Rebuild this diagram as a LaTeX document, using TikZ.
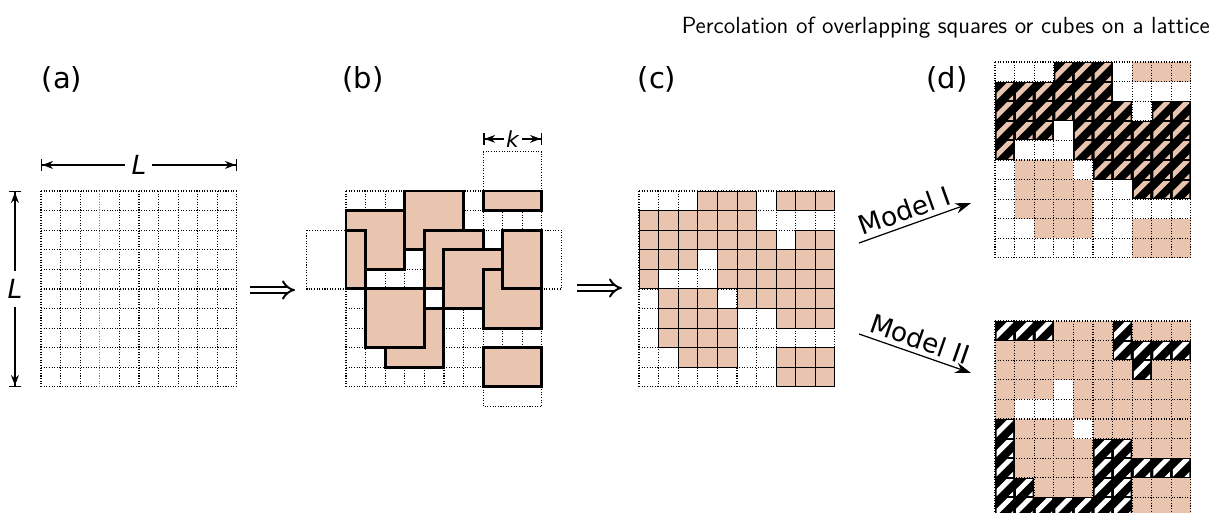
\documentclass[tikz,border=0pt]{standalone}
\usepackage{fontspec}
\usepackage{tikz}
\usetikzlibrary{arrows.meta, positioning, calc}
\newfontfamily\labelfont{DejaVu Sans}
\definecolor{sand}{RGB}{233,197,175}
\definecolor{gridgreen}{RGB}{50,185,50}

% occupied cells after the squares are put down (row/columns)
\newcommand{\occupied}{0/{3,4,5,7,8,9}, 1/{0,1,2,3,4,5}, 2/{0,1,2,3,4,5,6,8,9},
  3/{0,1,2,4,5,6,7,8,9}, 4/{0,4,5,6,7,8,9}, 5/{1,2,3,5,6,7,8,9},
  6/{1,2,3,4,7,8,9}, 7/{1,2,3,4}, 8/{2,3,4,7,8,9}, 9/{7,8,9}}

% hatched cell: black ground with a stripe in colour #3
\newcommand{\hatchcell}[3]{%
  \fill[black] (#1,#2) rectangle ++(1,1);
  \begin{scope}
    \clip (#1+0.08,#2+0.08) rectangle ++(0.84,0.84);
    \fill[#3] (#1+0.66,#2) -- ++(0.36,0) -- ++(-1.02,1.02) -- ++(0,-0.36) -- cycle;
    \fill[#3] (#1+1,#2+0.62) -- ++(0,0.38) -- ++(-0.38,0) -- cycle;
  \end{scope}}

% dotted 10x10 lattice
\newcommand{\lattice}{%
  \foreach \i in {0,...,10} {
    \draw[latticeline] (\i,0) -- (\i,10);
    \draw[latticeline] (0,\i) -- (10,\i);
  }}

\tikzset{
  panel/.style={shift={#1}, x=0.392cm, y=-0.392cm},
  latticeline/.style={line width=0.6pt, dash pattern=on 0.6pt off 0.9pt},
  ghostbox/.style={line width=0.6pt, dash pattern=on 0.6pt off 0.9pt},
  sqbox/.style={fill=sand, draw=black, line width=1.7pt, line join=miter},
  occcell/.style={fill=sand, draw=black, line width=0.55pt},
  dimline/.style={line width=0.8pt,
    {Bar[width=6.5pt]Stealth[length=6pt,width=4.5pt]}-{Stealth[length=6pt,width=4.5pt]Bar[width=6.5pt]}},
  sizelabel/.style={fill=white, font=\labelfont\itshape\fontsize{15}{18}\selectfont,
    inner xsep=3.5pt, inner ysep=5pt},
  paneltag/.style={anchor=base, font=\labelfont\fontsize{16.5}{20}\selectfont},
  modelarrow/.style={line width=0.7pt, -{Stealth[length=9pt,width=6pt]}},
  modeltext/.style={font=\labelfont\fontsize{15}{18}\selectfont, inner sep=2.5pt},
  impliesarrow/.style={double, double distance=2.6pt, line width=1.1pt, -{Implies}},
}

\begin{document}
\begin{tikzpicture}[x=0.02cm, y=-0.02cm]
\useasboundingbox (0,0) rectangle (1221,513);

% title and panel tags
\node[anchor=base east, font=\sffamily\fontsize{13.3}{16}\selectfont] (title) at (1216,34)
  {Percolation of overlapping squares or cubes on a lattice};
\node[paneltag] (tagA) at (62,89) {(a)};
\node[paneltag] (tagB) at (363,89) {(b)};
\node[paneltag] (tagC) at (657,89) {(c)};
\node[paneltag] (tagD) at (947,89) {(d)};

% (a) empty lattice
\begin{scope}[panel={(41,191)}]
  \lattice
  \draw[latticeline, gridgreen] (3,0) -- (3,10);
  \coordinate (LxA) at (0,-1.33);
  \coordinate (LxB) at (10,-1.33);
  \coordinate (LyA) at (-1.33,0);
  \coordinate (LyB) at (-1.33,10);
  \draw[dimline] (LxA) -- node[sizelabel] (Lx) {L} (LxB);
  \draw[dimline] (LyA) -- node[sizelabel] (Ly) {L} (LyB);
\end{scope}

% steps
\coordinate (imp1a) at (250,290);
\coordinate (imp1b) at (295,290);
\coordinate (imp2a) at (577,288);
\coordinate (imp2b) at (622,288);
\draw[impliesarrow] (imp1a) -- (imp1b);
\draw[impliesarrow] (imp2a) -- (imp2b);

% (b) squares with periodic boundaries
\begin{scope}[panel={(346,191)}]
  \lattice
  % parts that stick out of the box
  \draw[ghostbox] (-2,2) rectangle (0,5);
  \draw[ghostbox] (10,2) rectangle (11,5);
  \draw[ghostbox] (7,-2) rectangle (10,0);
  \draw[ghostbox] (7,10) rectangle (10,11);
  % squares of side k = 3, in drawing order
  \foreach \x/\y in {2/6, 1/5, 3/0, 0/1, 4/2, 5/3, 7/4}
    \draw[sqbox] (\x,\y) rectangle ++(3,3);
  % squares cut by the boundary
  \draw[sqbox] (8,2) rectangle (10,5);
  \draw[sqbox] (0,2) rectangle (1,5);
  \draw[sqbox] (7,0) rectangle (10,1);
  \draw[sqbox] (7,8) rectangle (10,10);
  \coordinate (kA) at (7,-2.66);
  \coordinate (kB) at (10,-2.66);
  \draw[dimline] (kA) -- node[sizelabel, font=\labelfont\itshape\fontsize{12.5}{14}\selectfont,
    inner xsep=1.5pt, inner ysep=1pt] (k) {k} (kB);
\end{scope}

% (c) occupied cells
\begin{scope}[panel={(639,191)}]
  \lattice
  \foreach \r/\cs in \occupied {
    \foreach \c in \cs \draw[occcell] (\c,\r) rectangle ++(1,1);
  }
\end{scope}

% (d) model I: spanning cluster of squares
\begin{scope}[panel={(995,62)}]
  \foreach \r/\cs in \occupied {
    \foreach \c in \cs \fill[sand] (\c,\r) rectangle ++(1,1);
  }
  \lattice
  \foreach \r/\cs in {0/{3,4,5}, 1/{0,1,2,3,4,5}, 2/{0,1,2,3,4,5,6,8,9},
      3/{0,1,2,4,5,6,7,8,9}, 4/{0,4,5,6,7,8,9}, 5/{5,6,7,8,9}, 6/{7,8,9}} {
    \foreach \c in \cs \hatchcell{\c}{\r}{sand};
  }
\end{scope}

% (d) model II: spanning cluster of empty cells
\begin{scope}[panel={(995,321)}]
  \foreach \r/\cs in \occupied {
    \foreach \c in \cs \fill[sand] (\c,\r) rectangle ++(1,1);
  }
  \lattice
  \foreach \r/\cs in {0/{0,1,2,6}, 1/{6,7,8,9}, 2/{7}, 5/{0}, 6/{0,5,6},
      7/{0,5,6,7,8,9}, 8/{0,1,5,6}, 9/{0,1,2,3,4,5,6}} {
    \foreach \c in \cs \hatchcell{\c}{\r}{white};
  }
\end{scope}

% model arrows
\coordinate (m1a) at (859,243);
\coordinate (m1b) at (971,203);
\coordinate (m2a) at (859,334);
\coordinate (m2b) at (971,373);
\draw[modelarrow] (m1a) -- node[pos=0.45, sloped, above, modeltext] (m1) {Model I} (m1b);
\draw[modelarrow] (m2a) -- node[pos=0.5, sloped, above, modeltext] (m2) {Model II} (m2b);

\end{tikzpicture}
\end{document}
